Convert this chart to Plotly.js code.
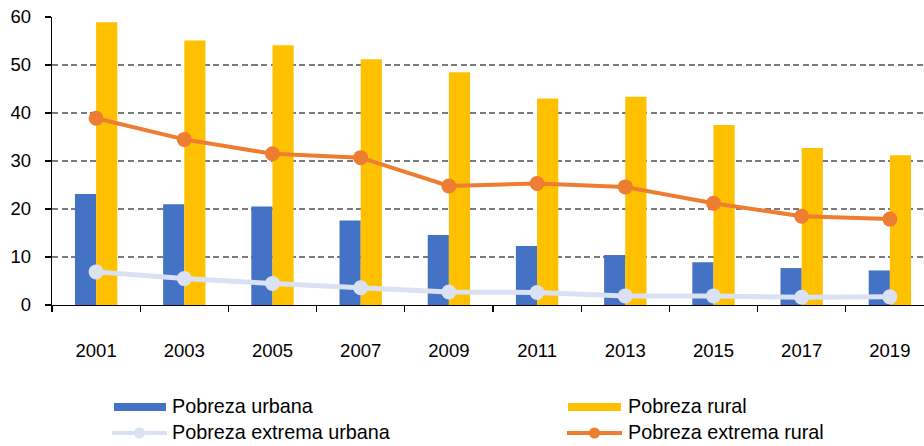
<!DOCTYPE html>
<html>
<head>
<meta charset="utf-8">
<script src="https://cdn.plot.ly/plotly-3.0.1.min.js"></script>
<style>html,body{margin:0;padding:0;background:#fff;}#chart{width:924px;height:446px;}</style>
</head>
<body>
<div id="chart"></div>
<script>
// ---- data ----
var years = ["2001","2003","2005","2007","2009","2011","2013","2015","2017","2019"];
var pobrezaUrbana = [23.1, 21.0, 20.5, 17.6, 14.6, 12.3, 10.4, 8.9, 7.7, 7.2];
var pobrezaRural = [58.9, 55.1, 54.1, 51.2, 48.5, 43.0, 43.4, 37.5, 32.7, 31.2];
var extremaUrbana = [6.9, 5.5, 4.5, 3.6, 2.7, 2.6, 1.9, 1.9, 1.6, 1.7];
var extremaRural = [38.9, 34.5, 31.5, 30.7, 24.8, 25.3, 24.6, 21.2, 18.5, 17.9];
var seriesNames = ["Pobreza urbana", "Pobreza rural", "Pobreza extrema urbana", "Pobreza extrema rural"];

// ---- styles ----
var cBlue = "#4472C4", cYellow = "#FFC000", cLight = "#D9E1F2", cOrange = "#ED7D31";
var FONT = "Liberation Sans, Arial, sans-serif";
var FS = 18.5, LFS = 19.8;

var traces = [
  {type:"bar", name:seriesNames[0], x:years, y:pobrezaUrbana, marker:{color:cBlue}, showlegend:false},
  {type:"bar", name:seriesNames[1], x:years, y:pobrezaRural, marker:{color:cYellow}, showlegend:false},
  {type:"scatter", mode:"lines+markers", name:seriesNames[2], x:years, y:extremaUrbana,
   line:{color:cLight, width:5}, marker:{color:cLight, size:15}, showlegend:false},
  {type:"scatter", mode:"lines+markers", name:seriesNames[3], x:years, y:extremaRural,
   line:{color:cOrange, width:4}, marker:{color:cOrange, size:15}, showlegend:false}
];

// plot area in pixels
var L = 52, T = 17, W = 924 - 52, H = 305 - 17;
function px(x){ return (x - L) / W; }
function py(y){ return (T + H - y) / H; }

var shapes = [], annotations = [];
function rectSwatch(x0, x1, yc, color){
  shapes.push({type:"rect", xref:"paper", yref:"paper", x0:px(x0), x1:px(x1), y0:py(yc+4), y1:py(yc-4),
    fillcolor:color, line:{width:0}});
}
function lineSwatch(x0, x1, yc, color){
  shapes.push({type:"line", xref:"paper", yref:"paper", x0:px(x0), x1:px(x1), y0:py(yc), y1:py(yc),
    line:{color:color, width:4}});
  var xm = (x0 + x1) / 2, r = 5.5;
  shapes.push({type:"circle", xref:"paper", yref:"paper", x0:px(xm - r), x1:px(xm + r), y0:py(yc + r), y1:py(yc - r),
    fillcolor:color, line:{width:0}});
}
function label(x, yc, text){
  annotations.push({xref:"paper", yref:"paper", x:px(x), y:py(yc), text:text, showarrow:false,
    xanchor:"left", yanchor:"middle", font:{family:FONT, size:LFS, color:"#000"}, borderpad:0});
}
rectSwatch(114, 166, 407, cBlue);   label(171, 406, seriesNames[0]);
rectSwatch(568, 621, 407, cYellow); label(627, 406, seriesNames[1]);
lineSwatch(112, 167, 433, cLight);  label(171, 432, seriesNames[2]);
lineSwatch(567, 622, 433, cOrange); label(627, 432, seriesNames[3]);

var layout = {
  width:924, height:446,
  margin:{l:L, r:0, t:T, b:446 - 305, pad:0, autoexpand:false},
  paper_bgcolor:"#fff", plot_bgcolor:"#fff",
  font:{family:FONT, size:FS, color:"#000"},
  barmode:"group", bargap:0.52, bargroupgap:0,
  showlegend:false,
  xaxis:{type:"category", range:[-0.5, 9.387], showgrid:false, zeroline:false,
    showline:true, linecolor:"#000", linewidth:1.2,
    ticks:"outside", tickson:"boundaries", ticklen:6, tickcolor:"#000", tickwidth:1.2,
    ticklabelstandoff:29, tickfont:{family:FONT, size:FS, color:"#000"}},
  yaxis:{range:[0, 60], dtick:10, tick0:0, showgrid:true, gridcolor:"#7a7a7a", gridwidth:1.2, griddash:"6px,3.5px",
    zeroline:false, showline:true, linecolor:"#000", linewidth:1.2,
    ticks:"outside", ticklen:6, tickcolor:"#000", tickwidth:1.2,
    ticklabelstandoff:10, tickfont:{family:FONT, size:FS, color:"#000"}},
  shapes:shapes, annotations:annotations
};

Plotly.newPlot("chart", traces, layout, {displayModeBar:false, staticPlot:true});
</script>
</body>
</html>
